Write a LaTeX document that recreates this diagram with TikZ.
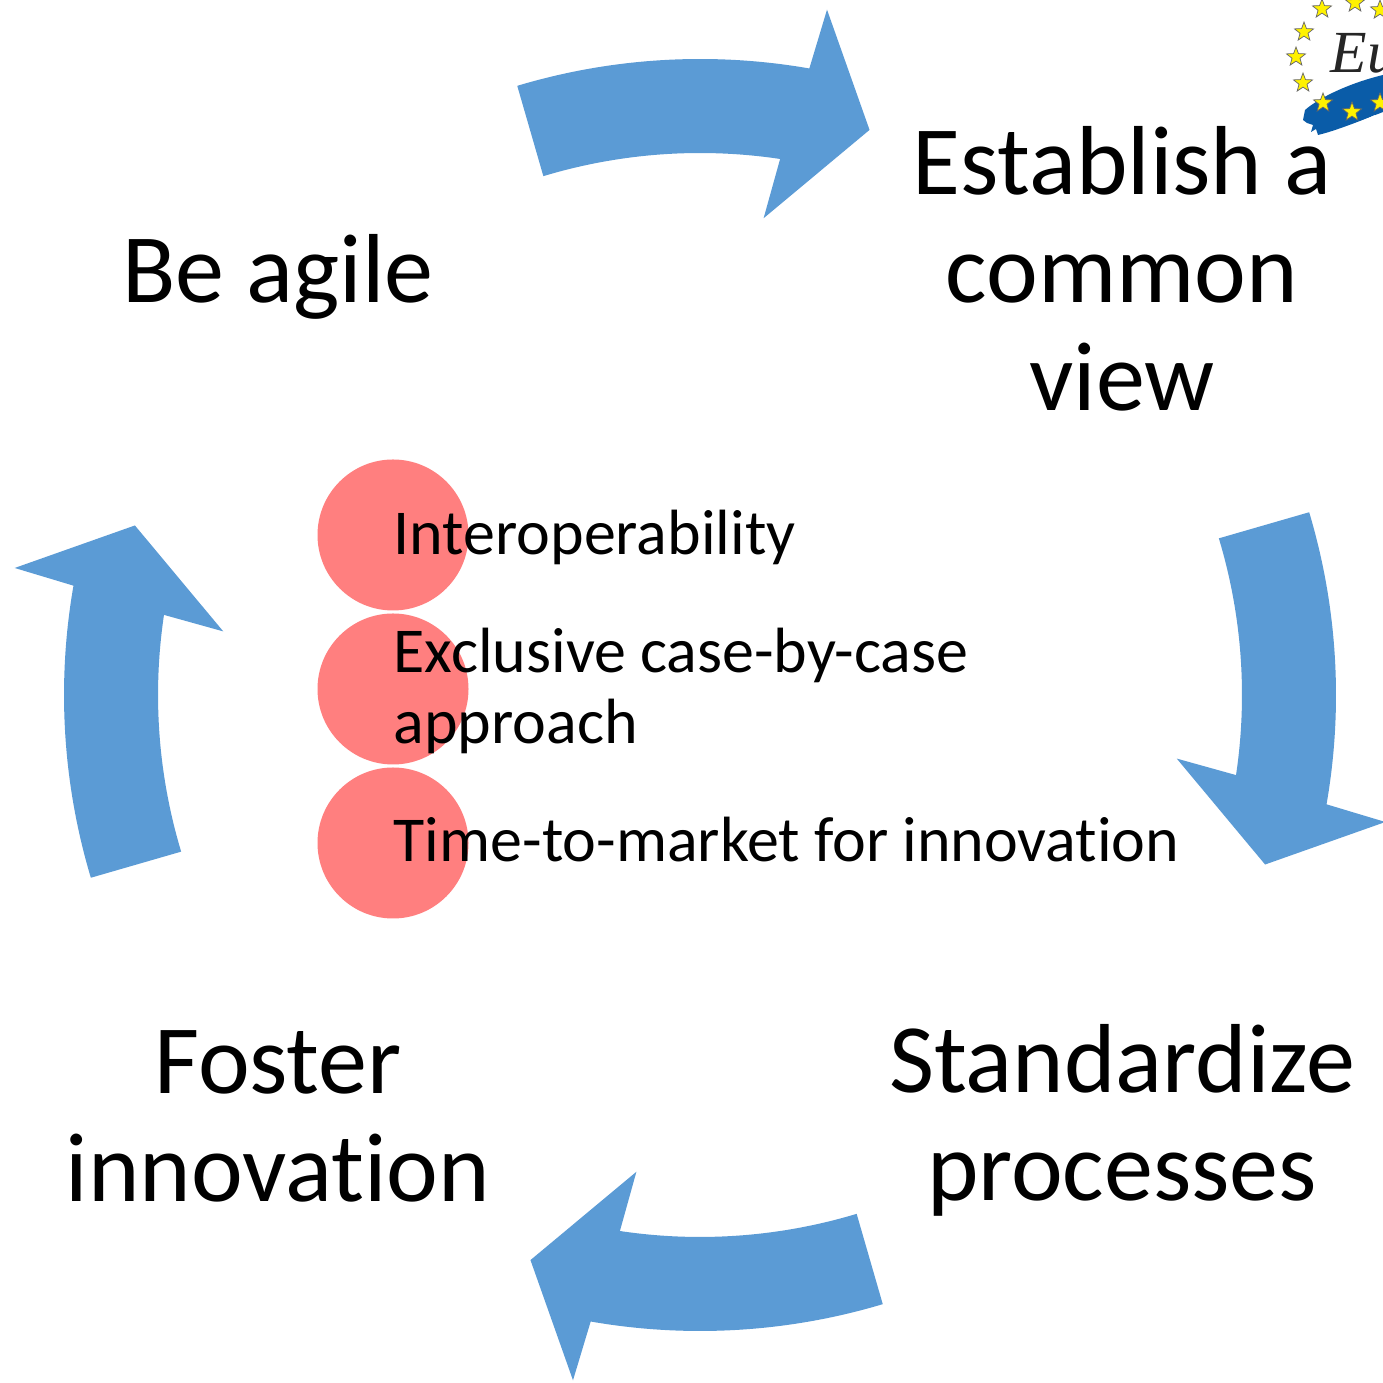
\documentclass[tikz,border=0pt]{standalone}
\usepackage{fontspec}
\setmainfont[Ligatures=CommonOff]{Carlito}
\newfontfamily\logofont{Liberation Serif}
\usetikzlibrary{shapes.geometric}
\definecolor{arrowblue}{HTML}{5B9BD5}
\definecolor{dotred}{HTML}{FF7F7F}
\definecolor{logoblue}{HTML}{0A5CA8}
\definecolor{staryellow}{HTML}{FFF200}
\newcommand{\tightwords}{\setlength{\spaceskip}{4pt}}
\tikzset{
  steptext/.style={align=center, inner sep=0pt, font=\fontsize{27.9}{30.7}\selectfont},
  itemtext/.style={align=left, anchor=west, inner sep=0pt, text width=6.2cm, font=\fontsize{18.2}{20}\selectfont, execute at begin node=\tightwords},
  logostar/.style={star, star points=5, star point ratio=2.4, fill=staryellow, draw=black!60, line width=0.2pt, inner sep=0pt, minimum size=0.2cm}
}
\begin{document}
\begin{tikzpicture}
  \clip (0,0) rectangle (13.83,13.83);
  \fill[white] (0,0) rectangle (13.83,13.83);

  % logo
  \fill[logoblue] (13.05,12.73) .. controls (13.20,12.86) and (13.50,13.00) .. (13.83,13.08)
    -- (13.83,12.71) .. controls (13.60,12.62) and (13.35,12.52) .. (13.18,12.48)
    -- (13.16,12.54) -- (13.11,12.51) -- (13.13,12.58) -- (13.07,12.60) -- (13.03,12.63) -- cycle;
  \draw[white, line width=0.5pt] (13.40,12.51) -- (13.75,12.67);
  \node[inner sep=0pt, anchor=base west, font=\logofont\itshape\fontsize{17}{17}\selectfont, text=black!85] (logotext) at (13.30,13.10) {Eu};
  \foreach \sx/\sy [count=\i] in {13.22/13.74,13.55/13.80,13.80/13.73,13.04/13.51,12.96/13.26,13.03/13.00,13.23/12.80,13.52/12.71,13.80/12.80}
    \node[logostar] (star\i) at (\sx,\sy) {};

  % arrows
  \foreach \rot in {0,-90,-180,-270} {
    \begin{scope}[shift={(7.00,6.88)}, rotate=\rot]
      \fill[arrowblue] (106.7:6.36) arc[start angle=106.7, end angle=80.1, radius=6.36]
        -- (79.5:6.97) -- (73.3:5.90) -- (82.4:4.81) -- (81.5:5.42)
        arc[start angle=81.5, end angle=106.8, radius=5.42] -- cycle;
    \end{scope}
  }

  % circles
  \foreach \cy/\cname in {8.48/circa,6.94/circb,5.40/circc}
    \fill[dotred] (3.93,\cy) circle (0.755);

  % labels
  \node[steptext] (common) at (11.22,11.14) {Establish a\\common\\view};
  \node[steptext] (agile) at (2.78,11.06) {Be agile};
  \node[steptext] (standard) at (11.22,2.63) {Standardize\\processes};
  \node[steptext] (foster) at (2.78,2.67) {Foster\\innovation};
  \node[itemtext] (interop) at (3.93,8.46) {Interoperability};
  \node[itemtext] (exclusive) at (3.93,6.92) {Exclusive case-by-case approach};
  \node[itemtext, text width=8.5cm] (market) at (3.93,5.43) {Time-to-market for innovation};
\end{tikzpicture}
\end{document}
